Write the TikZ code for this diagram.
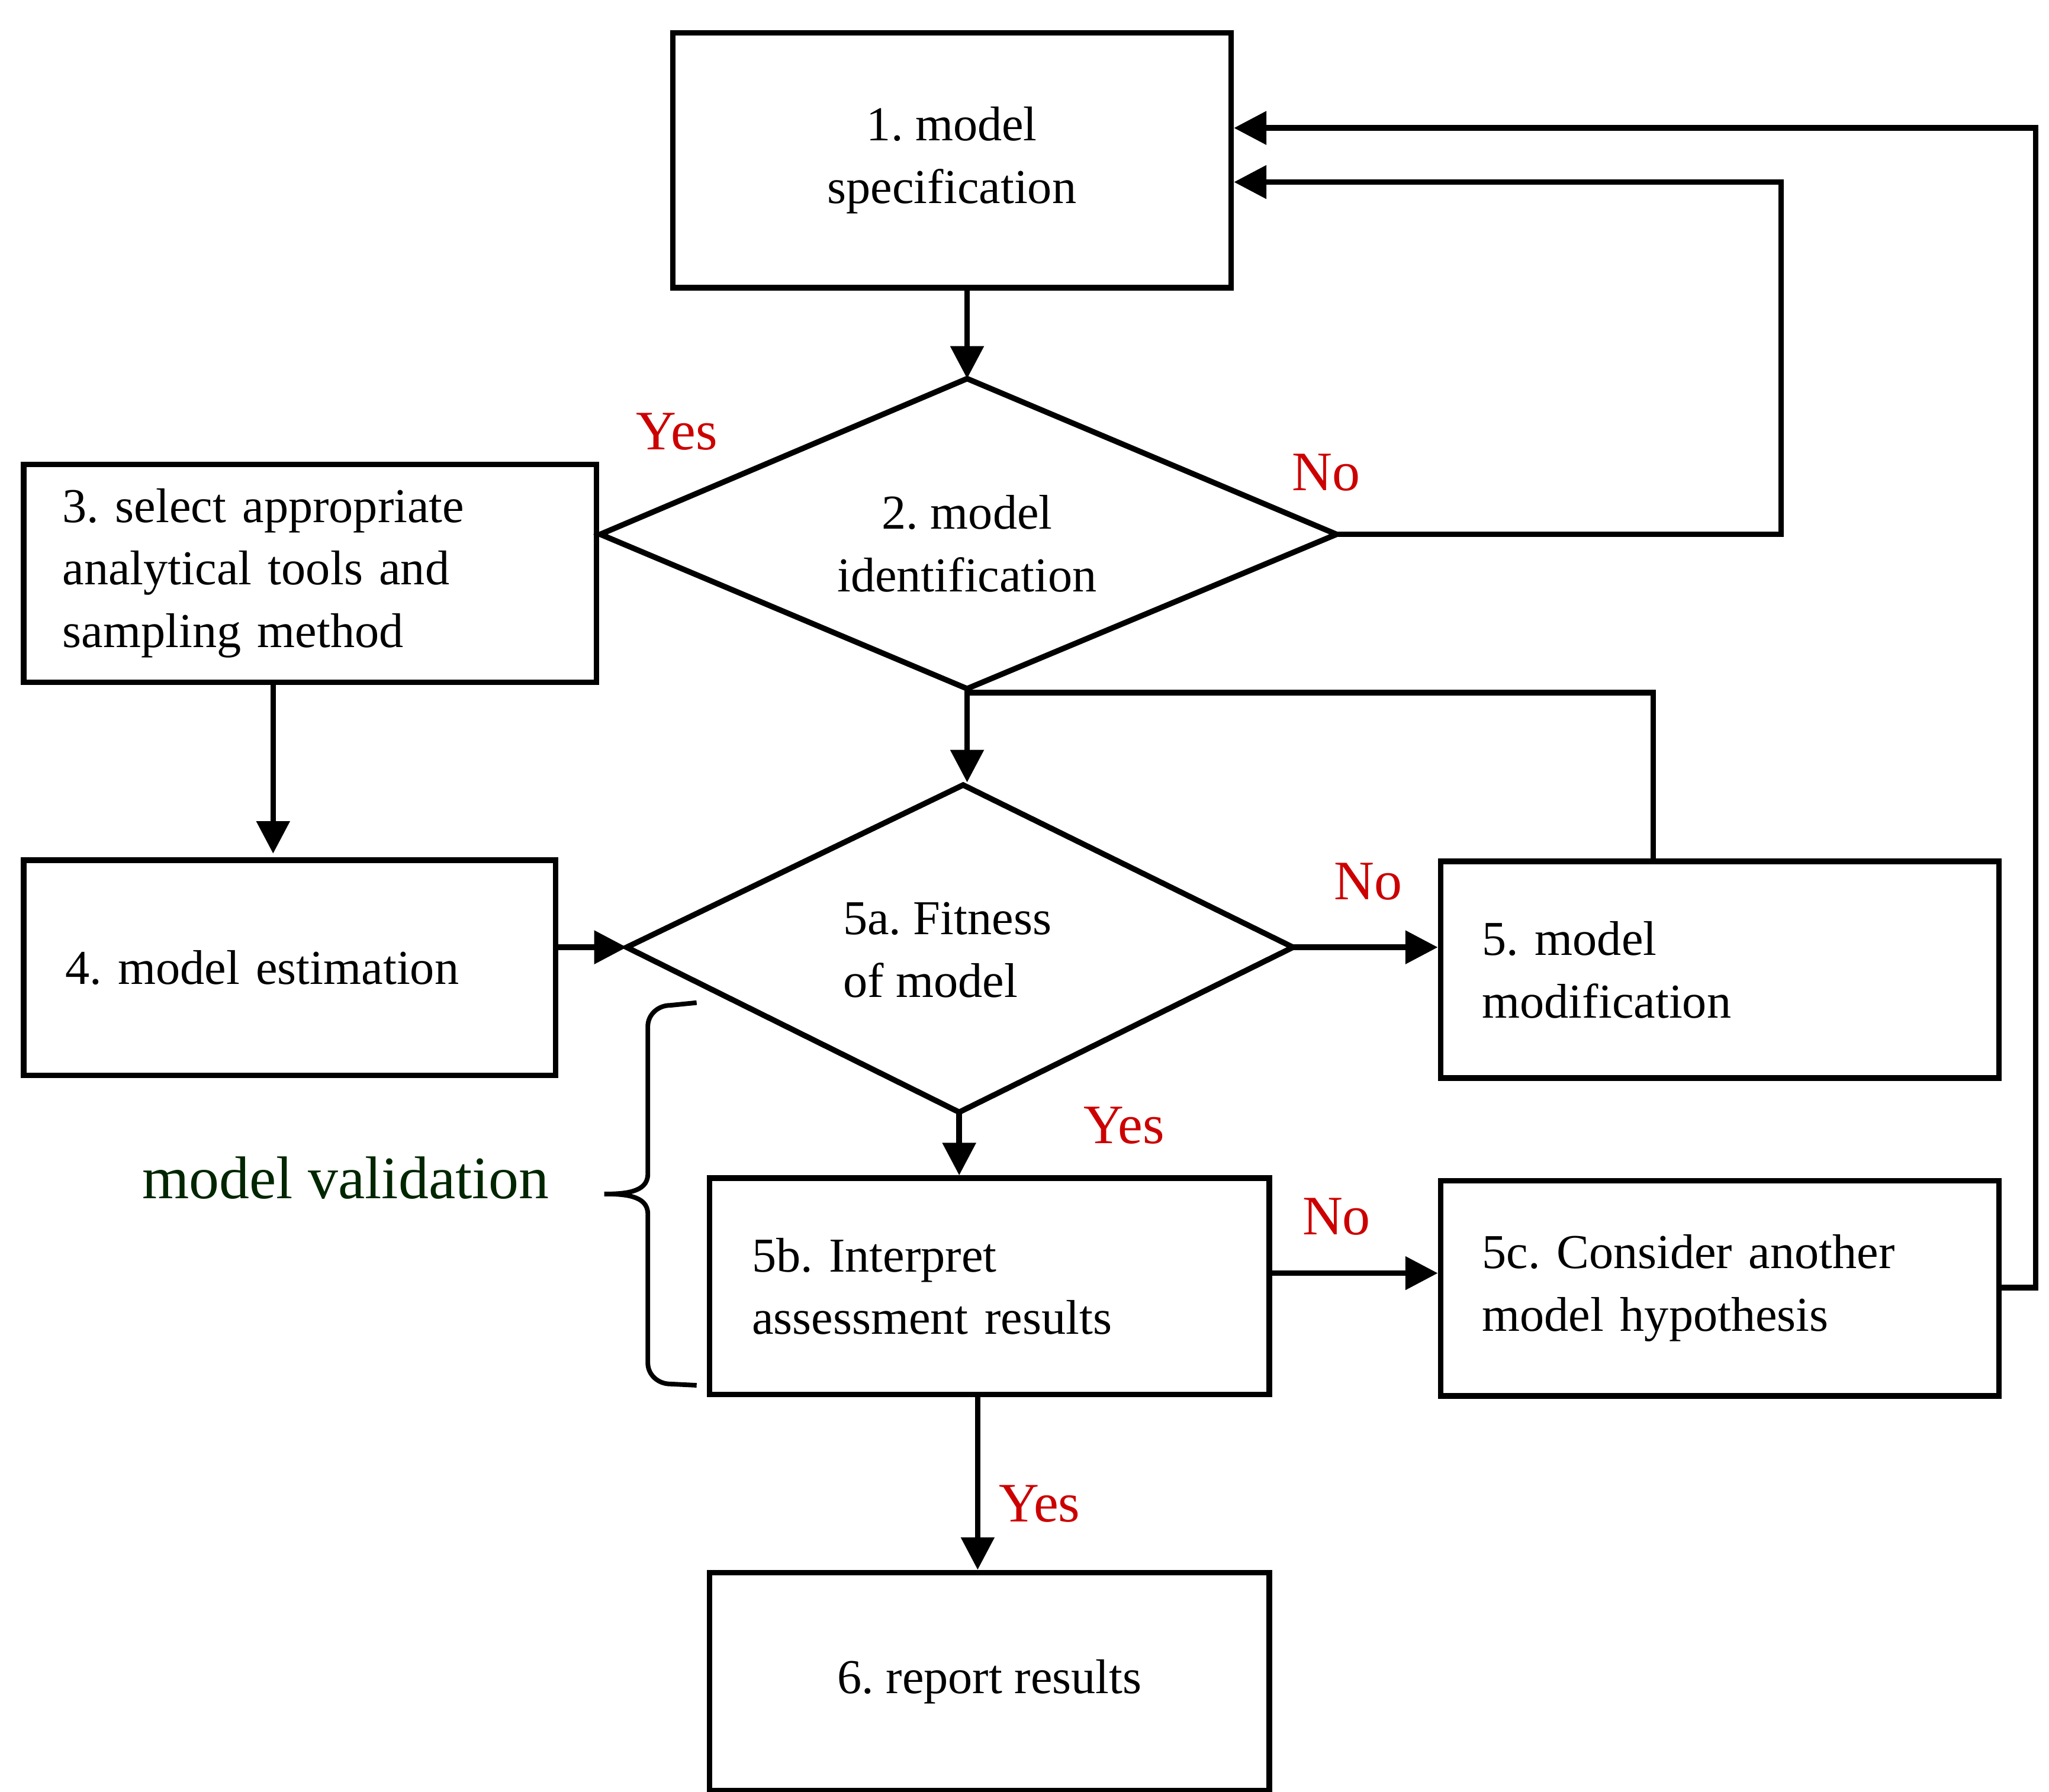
\documentclass[tikz,border=0pt]{standalone}
\usepackage{fontspec}
\setmainfont{Liberation Serif}
\usetikzlibrary{shapes.geometric,arrows.meta}
\begin{document}
\frenchspacing
\begin{tikzpicture}[x=0.01cm,y=-0.01cm,
 every node/.style={font=\fontsize{10.5pt}{13.5pt}\selectfont},
 box/.style={draw,line width=1.2pt,inner sep=0pt},
 lbl/.style={text=red!80!black,font=\fontsize{12pt}{14pt}\selectfont},
 ln/.style={line width=1.2pt},
 arr/.style={line width=1.2pt,-{Triangle[length=7pt,width=7pt]}}]
\useasboundingbox (0,0) rectangle (1553,1358);
% boxes
\node[box,minimum width=4.23cm,minimum height=1.93cm,align=center] (b1) at (721.5,121.5) {1. model\\specification};
\node[box,minimum width=4.34cm,minimum height=1.65cm,text width=3.75cm,align=left] (b3) at (235,434.5) {3. select appropriate\\analytical tools and\\sampling method};
\node[box,minimum width=4.03cm,minimum height=1.63cm,text width=3.4cm,align=left] (b4) at (219.5,733.5) {4. model estimation};
\node[box,minimum width=4.23cm,minimum height=1.64cm,text width=3.6cm,align=left] (b5) at (1303.5,735) {5. model\\modification};
\node[box,minimum width=4.24cm,minimum height=1.64cm,text width=3.6cm,align=left] (b5b) at (750,975) {5b. Interpret\\assessment results};
\node[box,minimum width=4.23cm,minimum height=1.63cm,text width=3.6cm,align=left] (b5c) at (1303.5,976.5) {5c. Consider another\\model hypothesis};
\node[box,minimum width=4.24cm,minimum height=1.65cm,align=center] (b6) at (750,1274.5) {6. report results};
% diamonds
\coordinate (d2t) at (733,287); \coordinate (d2b) at (733,522);
\coordinate (d2l) at (455,405); \coordinate (d2r) at (1013,405);
\draw[ln] (d2t) -- (d2r) -- (d2b) -- (d2l) -- cycle;
\node[align=center] (d2) at (733,412) {2. model\\identification};
\coordinate (d5t) at (730,595); \coordinate (d5b) at (727,843);
\coordinate (d5l) at (475,718); \coordinate (d5r) at (980,718);
\draw[ln] (d5t) -- (d5r) -- (d5b) -- (d5l) -- cycle;
\node[align=left] (d5) at (718,720) {5a. Fitness\\of model};
% connectors
\draw[arr] (b1.south -| d2t) -- (d2t);
\draw[ln] (d2l) -- (b3.east |- d2l);
\draw[arr] (b3.south -| 207,0) -- (207,647);
\draw[arr] (b4.east |- d5l) -- (d5l);
\draw[arr] (d2b) -- (733,525) -- (733,593);
\draw[arr] (d5r) -- (b5.west |- d5r);
\draw[ln] (b5.north -| 1253,0) -- (1253,525) -- (733,525);
\draw[arr] (d5b) -- (b5b.north -| d5b);
\draw[arr] (b5b.east |- 0,965) -- (b5c.west |- 0,965);
\draw[arr] (b5b.south -| 741,0) -- (b6.north -| 741,0);
\draw[arr] (d2r) -- (1350,405) -- (1350,138) -- (b1.east |- 0,138);
\draw[arr] (b5c.east |- 0,976) -- (1543,976) -- (1543,97) -- (b1.east |- 0,97);
% labels
\node[lbl] at (513,327) {Yes};
\node[lbl] at (1005,358) {No};
\node[lbl] at (1037,668) {No};
\node[lbl] at (852,853) {Yes};
\node[lbl] at (1013,922) {No};
\node[lbl] at (788,1140) {Yes};
% brace
\draw[line width=1pt] (528,760) -- (508,762) to[out=180,in=90] (491,778) -- (491,890) to[out=-90,in=0] (458,905) to[out=0,in=90] (491,920) -- (491,1033) to[out=-90,in=180] (508,1049) -- (528,1050);
\node[font=\fontsize{13pt}{15pt}\selectfont,text=black!85!green] (mv) at (262,893) {model validation};
\end{tikzpicture}
\end{document}
